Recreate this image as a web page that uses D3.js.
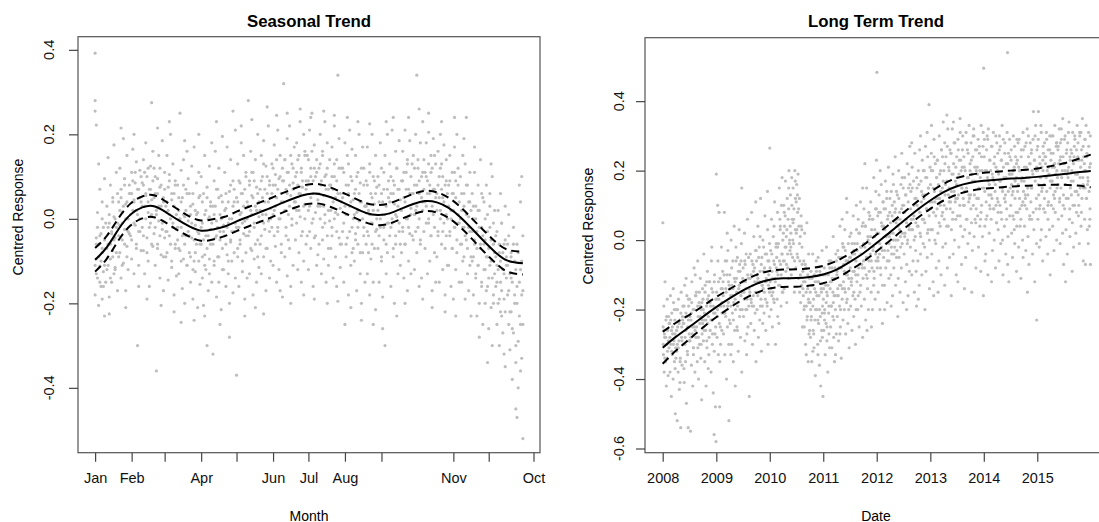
<!DOCTYPE html>
<html><head><meta charset="utf-8">
<script src="https://cdn.jsdelivr.net/npm/d3@7"></script>
<style>body{margin:0;background:#fff}svg{display:block;font-family:"Liberation Sans",Arial,sans-serif}</style>
</head><body><svg id="c" width="1099" height="522"></svg>
<script>
// ---------- Seasonal panel data ----------
const monthTickDays=[0,31,59,90,120,151,181,212,243,304,334,372];
const monthTickLabels=["Jan","Feb","","Apr","","Jun","Jul","Aug","","Nov","","Oct"];
const seasonalTickValues=[-0.4,-0.2,0,0.2,0.4];
const seasonalTickLabels=["-0.4","-0.2","0.0","0.2","0.4"];
const seasonalKnotDays=[0,10,20,30,40,50,60,70,80,90,100,110,120,130,140,150,160,170,180,190,200,210,220,230,240,250,260,270,280,290,300,310,320,330,340,350,363];
const seasonalFit=[-0.097,-0.067,-0.024,0.010,0.027,0.030,0.016,-0.002,-0.018,-0.028,-0.025,-0.018,-0.006,0.005,0.016,0.027,0.039,0.050,0.058,0.059,0.051,0.039,0.026,0.014,0.009,0.013,0.024,0.035,0.042,0.039,0.026,0.004,-0.024,-0.053,-0.080,-0.099,-0.105];
const seasonalHalfWidth=[0.028,0.027,0.026,0.026,0.026,0.026,0.025,0.025,0.024,0.024,0.024,0.023,0.023,0.023,0.023,0.023,0.023,0.023,0.023,0.023,0.023,0.023,0.023,0.023,0.024,0.024,0.024,0.024,0.024,0.024,0.024,0.024,0.024,0.025,0.025,0.026,0.027];
// day-of-year, response in thousandths
const seasonalPoints=`0 392,0 280,0 255,1 222,0 -180,1 -95,2 -140,2 15,3 -60,3 -205,4 -112,4 70,5 -35,5 -160,6 -80,6 40,7 -125,7 -20,8 -230,8 95,9 -70,9 -150,1 -45,3 130,6 -190,
10 -120,10 30,11 -60,11 145,12 -185,12 -10,13 80,13 -95,14 -35,14 -150,15 50,15 -75,16 5,16 175,17 -115,17 -45,18 110,18 -20,19 -170,19 60,12 -225,16 -130,
20 40,20 -90,21 -15,21 120,22 -140,22 70,23 -50,23 15,24 190,24 -105,25 -25,25 95,26 -170,26 35,27 -65,27 150,28 0,28 -120,29 80,29 -35,22 215,26 -210,
30 60,30 -40,31 110,31 -95,32 20,32 165,33 -130,33 45,34 -15,34 85,35 -60,35 135,36 -300,36 10,37 70,37 -110,38 -30,38 115,39 -75,39 40,33 200,37 -160,
40 85,40 -20,41 140,41 -75,42 30,42 -130,43 180,43 55,44 -45,44 100,45 -100,45 15,46 70,46 -160,47 125,47 -10,48 275,48 45,49 -65,49 160,44 -190,47 5,
50 -35,50 120,51 60,51 -110,52 -360,52 20,53 95,53 -60,54 150,54 -5,55 -140,55 75,56 30,56 -85,57 185,57 -25,58 50,58 -170,59 110,59 -45,53 215,56 -205,
60 30,60 -90,61 150,61 -30,62 75,62 -145,63 10,63 105,64 -60,64 200,65 -115,65 45,66 -10,66 130,67 -180,67 60,68 -70,68 90,69 -25,69 -135,63 230,67 -220,
70 -50,70 80,71 -130,71 20,72 250,72 -75,73 115,73 -20,74 -165,74 50,75 -95,75 140,76 5,76 -200,77 70,77 -40,78 160,78 -110,79 -5,79 95,73 -245,76 185,
80 -80,80 60,81 -150,81 10,82 125,82 -45,83 -190,83 35,84 -100,84 170,85 -15,85 -125,86 85,86 -60,87 -210,87 15,88 110,88 -35,89 -155,89 55,84 -240,88 200,
90 -60,90 100,91 -140,91 -10,92 60,92 -205,93 -85,93 150,94 20,94 -120,95 -300,95 75,96 -40,96 -170,97 125,97 -95,98 -25,98 40,99 -150,99 180,93 -230,97 5,
100 -320,100 30,101 -110,101 90,102 -45,102 160,103 -185,103 -5,104 70,104 -90,105 -150,105 120,106 -30,106 10,107 -215,107 55,108 -70,108 195,109 -120,109 -15,103 230,106 -250,
110 -40,110 110,111 -160,111 25,112 -85,112 170,113 -10,113 -130,114 65,114 -200,115 -55,115 140,116 0,116 -100,117 90,117 -175,118 40,118 -30,119 210,119 -140,114 -280,117 255,
120 -370,120 50,121 -90,121 130,122 -20,122 -160,123 85,123 -60,124 180,124 15,125 -125,125 60,126 -35,126 150,127 -190,127 -5,128 100,128 -80,129 40,129 -140,124 220,127 -230,
130 280,130 -40,131 90,131 -130,132 20,132 160,133 -75,133 55,134 -180,134 110,135 -10,135 -95,136 140,136 30,137 -150,137 75,138 -50,138 200,139 5,139 -115,133 235,136 -210,
140 70,140 -60,141 150,141 -130,142 10,142 100,143 -90,143 185,144 40,144 -25,145 -170,145 125,146 60,146 -70,147 220,147 -5,148 -140,148 90,149 25,149 -100,143 -225,146 265,
150 -20,150 130,151 80,151 -110,152 175,152 20,153 -65,153 105,154 -150,154 50,155 210,155 -30,156 95,156 -120,157 0,157 150,158 -80,158 60,159 120,159 -185,154 245,157 -170,
160 320,160 40,161 -90,161 140,162 70,162 -40,163 190,163 -135,164 10,164 110,165 -70,165 220,166 55,166 -160,167 130,167 -15,168 85,168 -110,169 170,169 25,163 250,166 -200,
170 100,170 -50,171 180,171 20,172 -120,172 140,173 60,173 -80,174 230,174 5,175 -150,175 110,176 75,176 -30,177 200,177 -100,178 35,178 150,179 -60,179 90,174 260,177 -180,
180 -40,180 150,181 90,181 -120,182 210,182 30,183 -70,183 120,184 -10,184 250,185 60,185 -160,186 175,186 -45,187 100,187 15,188 -110,188 140,189 45,189 -85,183 240,186 -190,
190 120,190 -60,191 30,191 200,192 -130,192 80,193 -20,193 160,194 55,194 -95,195 230,195 10,196 -150,196 105,197 -40,197 180,198 70,198 -110,199 140,199 -5,194 255,197 -200,
200 80,200 -70,201 170,201 -20,202 40,202 -140,203 220,203 100,204 -90,204 15,205 140,205 -160,206 340,206 60,207 -45,207 190,208 -115,208 25,209 120,209 -60,203 245,206 -195,
210 -30,210 120,211 -150,211 60,212 -250,212 180,213 10,213 -90,214 150,214 -45,215 80,215 -180,216 210,216 30,217 -110,217 100,218 -20,218 165,219 -70,219 45,214 240,217 -210,
220 60,220 -100,221 150,221 -35,222 15,222 -170,223 110,223 -60,224 200,224 -5,225 -130,225 85,226 -240,226 40,227 -80,227 170,228 -20,228 120,229 -150,229 30,223 230,226 -200,
230 -60,230 90,231 170,231 -130,232 20,232 -40,233 130,233 -180,234 60,234 -95,235 200,235 -10,236 -150,236 100,237 35,237 -70,238 150,238 -215,239 -25,239 75,233 225,236 -250,
240 100,240 -70,241 -150,241 40,242 180,242 -20,243 -100,243 120,244 10,244 -185,245 70,245 -50,246 -300,246 150,247 -130,247 30,248 200,248 -80,249 -10,249 90,244 -260,247 230,
250 -40,250 130,251 60,251 -160,252 210,252 -10,253 -90,253 90,254 -200,254 35,255 160,255 -60,256 5,256 120,257 -130,257 70,258 -30,258 185,259 -110,259 45,253 240,256 -230,
260 90,260 -80,261 160,261 -20,262 -140,262 50,263 210,263 -60,264 110,264 0,265 -170,265 140,266 70,266 -100,267 185,267 -35,268 25,268 -130,269 130,269 60,266 240,263 -200,
270 -50,270 150,271 80,271 -120,272 200,272 20,273 340,273 -80,274 120,274 -20,275 -160,275 60,276 180,276 -60,277 100,277 -140,278 40,278 230,279 -30,279 140,275 260,278 -190,
280 110,280 -70,281 180,281 30,282 -130,282 90,283 -10,283 205,284 60,284 -100,285 150,285 -40,286 -170,286 120,287 10,287 190,288 -80,288 70,289 130,289 -150,283 250,286 -210,
290 60,290 -90,291 160,291 -30,292 -150,292 100,293 200,293 20,294 -60,294 130,295 -120,295 50,296 175,296 -10,297 -180,297 80,298 -40,298 140,299 0,299 -110,294 230,297 -220,
300 80,300 -110,301 -40,301 150,302 20,302 -160,303 110,303 -70,304 -190,304 60,305 170,305 -20,306 -120,306 90,307 200,307 -80,308 -10,308 120,309 -150,309 40,305 240,306 -230,
310 -60,310 100,311 -150,311 20,312 150,312 -100,313 -20,313 60,314 -190,314 130,315 240,315 -50,316 -130,316 80,317 -20,317 -170,318 40,318 110,319 -90,319 -230,313 190,317 5,
320 -100,320 60,321 -180,321 0,322 -60,322 110,323 -140,323 30,324 -230,324 -30,325 80,325 -110,326 -200,326 20,327 -70,327 140,328 -160,328 -20,329 50,329 -250,322 170,326 -280,
330 -120,330 40,331 -200,331 -50,332 80,332 -170,333 -90,333 10,334 -260,334 -140,335 60,335 -20,336 -210,336 -100,337 100,337 -300,338 -60,338 -180,339 20,339 -130,333 -340,336 130,
340 -160,340 -40,341 -250,341 -110,342 20,342 -200,343 -80,343 -300,344 -150,344 60,345 -230,345 -10,346 -120,346 -270,347 -60,347 -190,348 -350,348 30,349 -140,349 -90,344 -220,347 -320,
350 -180,350 -60,351 -250,351 10,352 -130,352 -310,353 -220,353 -80,354 -380,354 -150,355 -20,355 -270,356 -200,356 -100,357 -340,357 -450,358 -160,358 -60,359 -290,359 -400,360 -230,360 80,361 -120,361 -360,362 -180,362 100,363 -520,363 -250,358 -470,361 40`;
// denser core of the seasonal cloud (day, thousandths)
const seasonalCorePoints=`0 -110,1 -60,1 -130,2 -20,3 -90,4 -150,4 -40,5 -100,6 0,6 -70,7 -160,8 -50,8 -110,9 -10,
10 -70,11 -20,11 -110,12 10,13 -60,13 -140,14 -30,15 -90,15 40,16 -50,17 0,17 -120,18 -80,19 -10,
20 -40,21 20,21 -80,22 50,23 -10,23 -110,24 30,25 -60,25 80,26 0,27 -90,27 40,28 -30,29 60,
30 10,31 60,31 -50,32 90,33 -10,33 40,34 110,35 -70,35 20,36 70,37 -30,38 50,38 0,39 100,
40 30,41 80,41 -40,42 110,43 0,43 60,44 -80,45 40,45 120,46 -20,47 70,48 10,48 -60,49 90,
50 50,51 -20,51 100,52 10,53 -70,53 60,54 30,55 -40,55 120,56 80,57 -10,58 40,58 -90,59 70,
60 -30,61 40,61 -80,62 20,63 -40,63 90,64 0,65 60,65 -100,66 -20,67 30,68 -60,68 80,69 10,
70 -20,71 50,71 -70,72 0,73 -100,73 40,74 -40,75 80,75 10,76 -60,77 20,78 -110,78 60,79 -30,
80 -40,81 30,81 -90,82 -10,83 60,83 -120,84 -50,85 20,85 -80,86 10,87 -30,88 -100,88 50,89 -60,
90 -20,91 -90,91 40,92 -50,93 10,93 -110,94 -40,95 50,95 -70,96 0,97 -130,98 -60,98 30,99 -10,
100 -60,101 10,101 -100,102 30,103 -40,103 70,104 -20,105 -90,105 50,106 -50,107 0,108 -120,108 40,109 -30,
110 20,111 -60,111 60,112 -20,113 -100,113 40,114 0,115 -50,115 80,116 -30,117 30,118 -80,118 70,119 -10,
120 -20,121 40,121 -70,122 90,123 10,123 -50,124 60,125 -10,125 -100,126 30,127 70,128 -40,128 110,129 0,
130 30,131 -30,131 80,132 -70,133 10,133 110,134 50,135 -20,135 90,136 -60,137 20,138 60,138 -90,139 40,
140 20,141 90,141 -40,142 50,143 -10,143 130,144 70,145 -70,145 10,146 100,147 40,148 -30,148 80,149 0,
150 60,151 10,151 120,152 -40,153 80,153 30,154 140,155 -20,155 70,156 0,157 100,158 40,158 -60,159 90,
160 90,161 20,161 140,162 -20,163 60,163 110,164 -50,165 80,165 30,166 150,167 0,168 70,168 120,169 40,
170 40,171 110,171 -10,172 80,173 150,173 20,174 60,175 -40,175 120,176 90,177 30,178 160,178 0,179 70,
180 80,181 20,181 140,182 -30,183 100,183 50,184 160,185 0,185 90,186 120,187 -40,188 60,188 110,189 30,
190 60,191 130,191 0,192 90,193 -50,193 150,194 30,195 100,195 -10,196 70,197 120,198 20,198 -70,199 80,
200 20,201 100,201 -40,202 70,203 0,203 130,204 50,205 -30,205 90,206 10,207 120,208 60,208 -60,209 40,
210 50,211 -10,211 110,212 30,213 80,213 -60,214 10,215 130,215 60,216 -30,217 40,218 90,218 -80,219 0,
220 10,221 70,221 -50,222 100,223 20,223 -20,224 60,225 -80,225 40,226 120,227 0,228 -40,228 80,229 30,
230 30,231 -30,231 80,232 -80,233 10,233 110,234 -10,235 50,235 -60,236 20,237 90,238 -30,238 60,239 0,
240 20,241 80,241 -40,242 0,243 60,243 -90,244 40,245 -20,245 110,246 10,247 -60,248 70,248 -10,249 50,
250 40,251 -20,251 100,252 0,253 60,253 -70,254 80,255 10,255 -40,256 120,257 30,258 -10,258 70,259 -60,
260 20,261 90,261 -30,262 110,263 40,263 -60,264 70,265 0,265 130,266 -20,267 60,268 100,268 10,269 -40,
270 60,271 10,271 120,272 -30,273 80,273 30,274 140,275 0,275 90,276 -50,277 50,278 110,278 20,279 70,
280 40,281 100,281 -10,282 60,283 130,283 0,284 80,285 -40,285 110,286 30,287 70,288 -20,288 150,289 50,
290 20,291 80,291 -40,292 50,293 120,293 0,294 70,295 -30,295 100,296 40,297 -70,298 90,298 10,299 60,
300 30,301 -30,301 90,302 0,303 60,303 -70,304 20,305 110,305 -20,306 50,307 -50,308 80,308 10,309 -10,
310 0,311 -60,311 60,312 -20,313 30,313 -90,314 -40,315 80,315 10,316 -70,317 40,318 -30,318 -110,319 20,
320 -30,321 -90,321 30,322 -50,323 0,323 -130,324 -70,325 20,325 -110,326 -20,327 -60,328 60,328 -150,329 -40,
330 -60,331 -120,331 0,332 -90,333 -30,333 -160,334 -70,335 -110,335 30,336 -50,337 -140,338 -10,338 -200,339 -80,
340 -90,341 -150,341 -30,342 -120,343 -60,343 -190,344 -100,345 -10,345 -170,346 -80,347 -130,348 -220,348 -50,349 -110,
350 -110,351 -170,351 -40,352 -220,353 -90,353 -140,354 -260,355 -60,356 -180,357 -120,357 -300,358 -200,359 -80,360 -150,361 -250,362 -100,362 -330,363 -170,363 -40`;

// ---------- Long-term panel data ----------
const trendTickYears=[2008,2009,2010,2011,2012,2013,2014,2015];
const trendTickValues=[-0.6,-0.4,-0.2,0,0.2,0.4];
const trendTickLabels=["-0.6","-0.4","-0.2","0.0","0.2","0.4"];
const trendKnotYears=[2008,2008.25,2008.5,2008.75,2009,2009.25,2009.5,2009.75,2010,2010.25,2010.5,2010.75,2011,2011.25,2011.5,2011.75,2012,2012.25,2012.5,2012.75,2013,2013.25,2013.5,2013.75,2014,2014.25,2014.5,2014.75,2015,2015.25,2015.5,2015.75,2016];
const trendFit=[-0.310,-0.278,-0.250,-0.221,-0.193,-0.168,-0.145,-0.126,-0.114,-0.110,-0.109,-0.106,-0.099,-0.085,-0.063,-0.038,-0.008,0.023,0.055,0.086,0.114,0.138,0.155,0.165,0.171,0.174,0.177,0.179,0.182,0.186,0.190,0.195,0.199];
const trendHalfWidth=[0.046,0.040,0.035,0.031,0.029,0.027,0.026,0.026,0.025,0.025,0.025,0.025,0.025,0.025,0.024,0.024,0.024,0.024,0.024,0.024,0.024,0.024,0.024,0.023,0.023,0.023,0.023,0.023,0.024,0.027,0.031,0.038,0.047];
// days since 2008-01-01, response in thousandths
const trendPoints=`1 50,3 -250,5 -330,8 -190,10 -380,13 -280,16 -120,19 -350,22 -230,25 -420,28 -300,31 -170,34 -260,37 -390,40 -220,43 -310,12 -270,30 -340,
47 -240,50 -380,53 -160,56 -300,59 -450,62 -210,65 -330,68 -270,71 -400,74 -180,77 -290,80 -350,83 -230,86 -500,89 -310,60 -260,72 -140,85 -370,
93 -200,96 -320,99 -520,102 -250,105 -380,108 -170,111 -290,114 -430,117 -230,120 -340,123 -540,126 -150,129 -280,132 -360,135 -220,100 -300,118 -410,130 -250,
138 -190,141 -300,144 -240,147 -410,150 -130,153 -280,156 -350,159 -210,162 -470,165 -160,168 -320,171 -250,174 -540,177 -190,180 -290,145 -370,160 -110,175 -230,
184 -170,187 -290,190 -550,193 -230,196 -360,199 -120,202 -270,205 -420,208 -200,211 -310,214 -80,217 -250,220 -380,223 -160,226 -280,195 -210,210 -330,222 -100,
230 -150,233 -280,236 -350,239 -60,242 -220,245 -400,248 -180,251 -300,254 -240,257 -110,260 -340,263 -200,266 -460,269 -270,272 -140,240 -310,255 -190,268 -230,
275 -170,278 -290,281 -40,284 -230,287 -350,290 -130,293 -260,296 -420,299 -190,302 -310,305 -90,308 -240,311 -370,314 -160,317 -280,285 -210,300 -120,315 -330,
321 -120,324 -260,327 -190,330 -380,333 -60,336 -230,339 -300,342 -150,345 -440,348 -210,351 -560,354 -100,357 -270,360 -480,363 -170,364 -580,335 -20,352 -320,
366 190,368 -150,371 -280,374 -200,377 -60,380 -330,383 -170,386 -240,389 -480,392 -110,395 -300,398 -190,401 -20,404 -260,407 -140,375 100,385 80,390 -350,405 -210,
412 -120,415 -270,418 -190,421 80,424 -330,427 -60,430 -220,433 -150,436 -400,439 -100,442 -250,445 -30,448 -180,451 -300,454 -130,420 -210,440 20,452 -520,
458 -100,461 -240,464 -160,467 0,470 -300,473 -130,476 -210,479 -60,482 -350,485 -180,488 40,491 -260,494 -120,497 -200,500 -20,465 -330,480 -140,495 -420,
504 -110,507 -250,510 -50,513 -180,516 -320,519 -140,522 30,525 -220,528 -90,531 -280,534 -160,537 -10,540 -380,543 -200,546 -120,510 -260,525 -70,540 150,
549 -80,552 -220,555 -150,558 20,561 -290,564 -120,567 -200,570 -40,573 -330,576 -170,579 60,582 -250,585 -110,588 -190,591 -450,560 -60,575 -270,590 -140,
595 -150,598 -40,601 -240,604 -100,607 80,610 -190,613 -300,616 -70,619 -160,622 10,625 -260,628 -120,631 -210,634 -30,637 -350,605 -180,620 -90,635 110,
641 -60,644 -200,647 -120,650 40,653 -280,656 -150,659 -20,662 -230,665 -90,668 120,671 -170,674 -320,677 -50,680 -130,683 -240,650 -110,665 10,680 -190,
686 -140,689 -20,692 -210,695 -80,698 70,701 -170,704 -260,707 -110,710 -40,713 -190,716 30,719 -300,722 -130,725 -60,728 -220,700 -120,715 140,729 -10,
731 265,734 -120,737 -30,740 -200,743 60,746 -90,749 -250,752 -150,755 10,758 -60,761 -180,764 110,767 -110,770 -300,773 -20,745 -160,760 40,775 -80,
778 -50,781 -170,784 80,787 -100,790 -10,793 -240,796 150,799 -130,802 30,805 -70,808 -190,811 100,814 -40,817 -150,820 0,785 -220,800 60,815 180,
823 -60,826 100,829 -140,832 40,835 -20,838 170,841 -90,844 10,847 -180,850 120,853 -40,856 60,859 -110,862 200,865 -10,830 80,845 -70,860 150,
869 -30,872 130,875 20,878 -100,881 180,884 60,887 -50,890 150,893 -10,896 90,899 -150,902 200,905 30,908 -80,911 110,875 -20,890 50,905 170,
915 160,918 -40,921 80,924 190,927 -110,930 40,933 120,936 -60,939 10,942 -180,945 70,948 -130,951 -20,954 -250,957 -90,920 130,935 -150,950 30,
960 -160,963 -60,966 -250,969 20,972 -120,975 -300,978 -80,981 -190,984 50,987 -220,990 -140,993 -350,996 -40,999 -270,1002 -110,965 -200,980 -330,995 -170,
1006 -180,1009 -280,1012 -90,1015 -220,1018 -350,1021 -130,1024 -40,1027 -260,1030 -170,1033 -310,1036 -100,1039 -230,1042 -390,1045 -150,1048 -60,1010 -200,1025 -320,1040 -120,
1052 -200,1055 -120,1058 -300,1061 -50,1064 -240,1067 -160,1070 -360,1073 -90,1076 -220,1079 -420,1082 -140,1085 -260,1088 -30,1091 -190,1094 -450,1060 -330,1075 -100,1090 -280,
1097 -170,1100 -260,1103 -80,1106 -200,1109 -330,1112 -130,1115 -240,1118 -20,1121 -290,1124 -160,1127 -380,1130 -100,1133 -210,1136 -60,1139 -310,1105 -230,1120 -150,1135 -270,
1143 -140,1146 -250,1149 -60,1152 -190,1155 -310,1158 -110,1161 -220,1164 10,1167 -280,1170 -160,1173 -350,1176 -80,1179 -200,1182 -40,1185 -270,1150 -120,1165 -180,1180 -330,
1189 -100,1192 -220,1195 -30,1198 -160,1201 -290,1204 -80,1207 -190,1210 40,1213 -250,1216 -130,1219 -340,1222 -50,1225 -170,1228 -10,1231 -230,1195 -140,1210 -270,1225 60,
1234 -120,1237 -20,1240 -200,1243 30,1246 -150,1249 -270,1252 -60,1255 -180,1258 80,1261 -100,1264 -240,1267 -10,1270 -140,1273 -310,1276 -50,1240 -90,1255 120,1270 -200,
1280 -80,1283 -190,1286 20,1289 -130,1292 -260,1295 -40,1298 -160,1301 70,1304 -220,1307 -90,1310 -10,1313 -170,1316 -300,1319 -60,1322 100,1290 -110,1305 -30,1320 -200,
1326 -120,1329 -10,1332 -200,1335 60,1338 -80,1341 -250,1344 20,1347 -150,1350 110,1353 -40,1356 -190,1359 -70,1362 40,1365 -280,1368 -110,1335 -160,1350 -20,1365 150,
1371 -60,1374 90,1377 -170,1380 -20,1383 40,1386 -230,1389 -100,1392 150,1395 -50,1398 -140,1401 10,1404 -200,1407 80,1410 -90,1413 -10,1380 220,1395 -260,1410 60,
1417 -40,1420 110,1423 -150,1426 30,1429 -80,1432 -200,1435 60,1438 -20,1441 180,1444 -110,1447 10,1450 -170,1453 90,1456 -60,1459 230,1425 -250,1440 -130,1455 140,
1462 483,1465 -80,1468 70,1471 -150,1474 20,1477 130,1480 -40,1483 -200,1486 80,1489 -100,1492 160,1495 -20,1498 40,1501 -130,1504 110,1470 -60,1485 200,1500 -240,
1508 -50,1511 90,1514 -130,1517 30,1520 170,1523 -80,1526 -10,1529 120,1532 -180,1535 60,1538 -30,1541 210,1544 -110,1547 10,1550 80,1515 -200,1530 140,1545 -60,
1554 20,1557 -100,1560 140,1563 -40,1566 70,1569 -160,1572 190,1575 0,1578 -80,1581 110,1584 -20,1587 240,1590 -130,1593 50,1596 -50,1560 -190,1575 160,1590 90,
1599 -30,1602 130,1605 40,1608 -110,1611 200,1614 -50,1617 80,1620 -150,1623 10,1626 160,1629 -80,1632 250,1635 -10,1638 100,1641 -180,1605 -220,1620 60,1635 180,
1645 100,1648 -40,1651 180,1654 20,1657 -120,1660 130,1663 60,1666 -70,1669 220,1672 0,1675 -160,1678 150,1681 40,1684 -90,1687 270,1650 80,1665 -200,1680 190,
1691 -20,1694 140,1697 60,1700 -100,1703 210,1706 30,1709 -60,1712 170,1715 100,1718 -150,1721 250,1724 10,1727 -30,1730 120,1733 -190,1700 280,1715 70,1730 -90,
1736 150,1739 40,1742 -60,1745 200,1748 90,1751 -130,1754 260,1757 20,1760 -40,1763 170,1766 110,1769 -100,1772 230,1775 60,1778 -10,1745 -170,1760 300,1775 130,
1782 60,1785 200,1788 -20,1791 130,1794 270,1797 -90,1800 90,1803 180,1806 -50,1809 240,1812 30,1815 150,1818 390,1821 -140,1824 110,1790 -200,1805 310,1820 0,
1828 160,1831 30,1834 250,1837 -40,1840 110,1843 200,1846 -120,1849 80,1852 290,1855 140,1858 0,1861 220,1864 70,1867 -80,1870 180,1835 330,1850 -160,1865 120,
1873 90,1876 230,1879 20,1882 160,1885 -60,1888 300,1891 120,1894 40,1897 200,1900 -100,1903 260,1906 70,1909 150,1912 -20,1915 340,1880 -150,1895 100,1910 240,
1919 200,1922 60,1925 280,1928 130,1931 -10,1934 240,1937 90,1940 170,1943 -80,1946 320,1949 40,1952 210,1955 110,1958 -50,1961 260,1925 -130,1940 360,1955 150,
1965 110,1968 250,1971 30,1974 190,1977 320,1980 80,1983 -40,1986 220,1989 140,1992 0,1995 280,1998 170,2001 60,2004 -100,2007 240,1970 -160,1985 340,2000 120,
2010 180,2013 70,2016 290,2019 130,2022 -20,2025 230,2028 100,2031 310,2034 40,2037 200,2040 -70,2043 150,2046 260,2049 10,2052 120,2015 -120,2030 350,2045 210,
2056 240,2059 100,2062 30,2065 200,2068 -50,2071 310,2074 150,2077 60,2080 260,2083 -10,2086 180,2089 110,2092 330,2095 20,2098 220,2060 -140,2075 280,2090 130,
2102 130,2105 280,2108 50,2111 190,2114 -30,2117 240,2120 100,2123 320,2126 10,2129 170,2132 60,2135 260,2138 -80,2141 200,2144 120,2110 -150,2125 300,2140 90,
2147 210,2150 70,2153 290,2156 -20,2159 150,2162 250,2165 40,2168 180,2171 -90,2174 330,2177 100,2180 200,2183 10,2186 270,2189 -160,2155 120,2170 60,2191 495,
2193 150,2196 290,2199 40,2202 200,2205 -40,2208 110,2211 260,2214 70,2217 180,2220 -100,2223 320,2226 130,2229 20,2232 230,2235 90,2200 -60,2215 300,2230 160,
2239 200,2242 60,2245 270,2248 120,2251 -30,2254 180,2257 310,2260 90,2263 0,2266 240,2269 140,2272 -80,2275 210,2278 50,2281 280,2245 -120,2260 170,2275 100,
2284 120,2287 250,2290 30,2293 190,2296 -60,2299 300,2302 100,2305 170,2308 -10,2311 230,2314 60,2317 330,2320 140,2323 -100,2326 210,2290 80,2305 270,2320 0,
2330 180,2333 40,2336 280,2339 110,2342 -40,2345 220,2348 90,2351 310,2354 540,2357 10,2360 250,2363 -120,2366 190,2369 70,2372 150,2340 130,2355 -70,2370 240,
2376 100,2379 260,2382 20,2385 190,2388 -50,2391 140,2394 300,2397 60,2400 210,2403 -10,2406 170,2409 240,2412 80,2415 -90,2418 290,2385 130,2400 30,2415 220,
2421 230,2424 80,2427 160,2430 -20,2433 290,2436 120,2439 40,2442 200,2445 -110,2448 260,2451 100,2454 180,2457 0,2460 310,2463 140,2430 210,2445 60,2460 -50,
2467 170,2470 40,2473 270,2476 120,2479 -30,2482 210,2485 90,2488 320,2491 150,2494 10,2497 240,2500 -70,2503 180,2506 70,2509 280,2475 130,2490 -150,2505 220,
2513 110,2516 250,2519 60,2522 200,2525 -40,2528 290,2531 370,2534 30,2537 230,2540 -120,2543 170,2546 330,2549 90,2552 -10,2555 260,2520 150,2553 -230,2550 200,
2558 200,2561 60,2564 290,2567 130,2570 -20,2573 240,2576 100,2579 180,2582 330,2585 30,2588 210,2591 150,2594 -60,2597 270,2600 90,2565 370,2580 0,2595 230,
2604 160,2607 280,2610 80,2613 220,2616 10,2619 310,2622 140,2625 200,2628 -40,2631 260,2634 110,2637 190,2640 30,2643 300,2646 170,2615 240,2630 60,2645 -100,
2650 230,2653 100,2656 300,2659 170,2662 40,2665 250,2668 130,2671 -30,2674 210,2677 330,2680 80,2683 190,2686 270,2689 0,2692 150,2660 210,2675 120,2690 280,
2695 180,2698 260,2701 60,2704 220,2707 320,2710 120,2713 -10,2716 240,2719 150,2722 290,2725 70,2728 200,2731 350,2734 100,2737 -70,2700 160,2715 280,2730 20,
2741 220,2744 90,2747 300,2750 160,2753 30,2756 250,2759 190,2762 -40,2765 280,2768 120,2771 210,2774 340,2777 60,2780 240,2783 150,2750 -120,2765 200,2780 10,
2787 260,2790 130,2793 200,2796 50,2799 310,2802 170,2805 -20,2808 240,2811 100,2814 290,2817 190,2820 20,2823 230,2826 140,2829 330,2795 -90,2810 270,2825 80,
2832 190,2835 280,2838 70,2841 230,2844 -10,2847 300,2850 150,2853 210,2856 40,2859 260,2862 120,2865 350,2868 180,2871 -60,2874 240,2840 100,2855 310,2870 160,
2878 220,2880 60,2882 290,2884 150,2886 -70,2888 200,2890 330,2893 120,2896 250,2899 30,2902 180,2905 -10,2908 270,2911 140,2914 210,2917 90,2919 300,2920 -70,2912 40,2900 160`;
// denser core of the long-term cloud (days since 2008-01-01, thousandths)
const trendCorePoints=`4 -300,9 -260,15 -340,21 -280,27 -220,33 -320,38 -290,44 -240,
49 -280,55 -230,61 -320,66 -250,73 -300,79 -200,84 -270,90 -340,
95 -260,101 -200,107 -310,112 -240,119 -350,124 -210,131 -290,136 -230,
140 -240,146 -190,152 -300,158 -260,164 -220,170 -330,176 -170,181 -270,
186 -220,192 -280,198 -180,204 -250,209 -310,215 -200,221 -260,227 -160,
232 -250,238 -190,244 -280,250 -150,256 -220,262 -300,267 -180,273 -240,
277 -200,283 -260,289 -150,295 -230,301 -290,306 -170,312 -220,318 -120,
323 -180,329 -230,334 -140,340 -270,346 -190,352 -120,358 -210,362 -250,
369 -170,375 -220,381 -120,387 -190,393 -250,399 -140,404 -180,409 -90,
413 -160,419 -100,425 -210,431 -140,437 -60,443 -190,449 -120,455 -230,
459 -140,465 -190,471 -80,477 -160,483 -230,489 -110,495 -170,501 -60,
505 -150,511 -190,517 -90,523 -130,529 -200,535 -60,541 -150,546 -110,
551 -120,557 -170,563 -70,569 -140,575 -200,580 -100,586 -50,592 -160,
597 -110,603 -170,609 -60,615 -130,621 -190,627 -80,633 -150,638 -30,
643 -100,649 -160,655 -50,661 -120,667 -190,673 -70,679 -130,684 0,
688 -90,694 -150,700 -40,706 -120,712 -180,718 -60,724 -100,729 -150,
733 -80,739 -140,745 -40,751 -110,757 -170,763 -70,769 -120,775 -10,
779 -90,785 -20,791 -130,797 -60,803 40,809 -100,815 -40,820 -150,
824 20,830 -60,836 70,842 -20,848 30,854 -80,860 90,866 0,
870 40,876 -40,882 100,888 0,894 60,900 -60,906 120,912 20,
916 30,922 -50,928 90,934 -10,940 -100,946 40,952 -70,957 -140,
961 -120,967 -190,973 -70,979 -150,985 -230,991 -100,997 -180,1003 -260,
1007 -150,1013 -230,1019 -110,1025 -190,1031 -270,1037 -140,1043 -200,1049 -90,
1053 -160,1059 -230,1065 -120,1071 -200,1077 -290,1083 -150,1089 -210,1094 -100,
1098 -140,1104 -210,1110 -100,1116 -180,1122 -250,1128 -130,1134 -190,1140 -80,
1144 -120,1150 -190,1156 -80,1162 -150,1168 -230,1174 -110,1180 -160,1186 -60,
1190 -90,1196 -160,1202 -50,1208 -130,1214 -200,1220 -80,1226 -140,1231 -20,
1235 -70,1241 -140,1247 -30,1253 -100,1259 -170,1265 -60,1271 -110,1277 10,
1281 -50,1287 -120,1293 -10,1299 -90,1305 -150,1311 -40,1317 -100,1323 30,
1327 -30,1333 -100,1339 20,1345 -70,1351 -130,1357 -20,1363 -80,1368 50,
1372 -10,1378 -80,1384 40,1390 -50,1396 -110,1402 0,1408 -60,1414 70,
1418 10,1424 -60,1430 60,1436 -30,1442 -90,1448 30,1454 -40,1459 90,
1463 20,1469 -50,1475 80,1481 -10,1487 -80,1493 50,1499 -30,1505 110,
1509 40,1515 -30,1521 90,1527 10,1533 -60,1539 70,1545 -10,1551 120,
1555 50,1561 -20,1567 100,1573 20,1579 -40,1585 80,1591 0,1596 140,
1600 60,1606 0,1612 120,1618 30,1624 -20,1630 90,1636 20,1642 150,
1646 80,1652 10,1658 130,1664 50,1670 -10,1676 110,1682 30,1688 160,
1692 90,1698 30,1704 150,1710 60,1716 0,1722 120,1728 50,1734 180,
1737 100,1743 40,1749 160,1755 80,1761 10,1767 140,1773 60,1779 200,
1783 120,1789 50,1795 180,1801 90,1807 20,1813 150,1819 70,1825 210,
1829 90,1834 200,1841 30,1846 150,1853 240,1858 110,1864 -10,1870 180,
1875 230,1879 120,1887 50,1891 190,1898 140,1903 260,1911 80,1915 170,
1921 100,1927 220,1930 160,1939 40,1943 270,1951 130,1955 200,1963 90,
1967 250,1971 140,1979 60,1983 190,1989 280,1997 110,2001 210,2006 160,
2012 120,2018 260,2022 190,2030 70,2034 230,2042 150,2048 300,2053 100,
2058 210,2061 140,2070 280,2073 60,2081 180,2085 250,2094 120,2098 200,
2104 90,2107 230,2116 170,2119 300,2128 130,2131 210,2137 50,2144 260,
2149 190,2153 120,2161 270,2165 200,2173 80,2176 240,2182 150,2188 310,
2195 240,2199 140,2207 60,2211 200,2219 290,2222 170,2231 100,2234 230,
2241 130,2247 270,2250 190,2259 90,2262 220,2271 160,2274 300,2280 50,
2286 200,2289 110,2298 260,2301 170,2310 80,2313 230,2319 150,2325 290,
2332 120,2335 250,2344 180,2347 60,2356 220,2359 140,2368 290,2371 190,
2378 230,2381 160,2390 70,2393 200,2402 270,2405 120,2414 180,2417 40,
2423 140,2426 280,2435 200,2438 90,2447 240,2450 170,2459 110,2462 260,
2469 210,2472 100,2481 280,2484 180,2493 130,2496 300,2505 60,2508 220,
2515 150,2518 260,2527 190,2530 80,2539 230,2542 300,2551 120,2554 210,
2560 270,2563 160,2572 90,2575 220,2584 310,2587 140,2596 200,2599 250,
2606 120,2609 240,2618 180,2621 290,2630 100,2633 210,2642 260,2645 150,
2652 250,2655 170,2664 300,2667 90,2676 220,2679 140,2688 280,2691 200,
2697 160,2700 270,2709 110,2712 230,2721 320,2724 180,2733 240,2736 130,
2743 290,2746 200,2755 120,2758 260,2767 180,2770 310,2779 90,2782 230,
2789 170,2792 250,2801 100,2804 220,2813 300,2816 140,2825 260,2828 190,
2834 240,2837 130,2846 310,2849 180,2858 80,2861 230,2870 270,2873 150,
2880 200,2883 290,2892 120,2895 240,2904 170,2907 310,2916 60,2920 220`;

// ---------- helpers ----------
function parsePts(s){return s.split(",").map(t=>t.trim()).filter(t=>t).map(t=>{const p=t.split(/\s+/).map(Number);return {x:p[0],y:p[1]/1000};});}
const svg=d3.select("#c");
const FONT='"Liberation Sans",Arial,sans-serif';
const DAY=864e5, T0=Date.UTC(2008,0,1);
const pointColor="#bebebe";

// ---------- Seasonal panel ----------
(function(){
  const box={l:78,r:540,t:36.7,b:452.7};
  const pad=363*0.04;
  const x=d3.scaleLinear().domain([0-pad,363+pad]).range([box.l,box.r]);
  const y=d3.scaleLinear().domain([-0.5535,0.4311]).range([box.b,box.t]);
  const g=svg.append("g");
  const pts=parsePts(seasonalPoints).concat(parsePts(seasonalCorePoints));
  g.append("g").selectAll("circle").data(pts).join("circle")
    .attr("cx",d=>x(d.x)).attr("cy",d=>y(d.y)).attr("r",1.6).attr("fill",pointColor);
  const fitData=seasonalKnotDays.map((d,i)=>({x:d,f:seasonalFit[i],w:seasonalHalfWidth[i]}));
  const line=k=>d3.line().x(d=>x(d.x)).y(d=>y(d.f+k*d.w)).curve(d3.curveNatural);
  g.append("path").datum(fitData).attr("d",line(0)).attr("fill","none").attr("stroke","#000").attr("stroke-width",2);
  [1,-1].forEach(k=>g.append("path").datum(fitData).attr("d",line(k)).attr("fill","none").attr("stroke","#000").attr("stroke-width",2).attr("stroke-dasharray","8,5"));
  g.append("rect").attr("x",box.l).attr("y",box.t).attr("width",box.r-box.l).attr("height",box.b-box.t).attr("fill","none").attr("stroke","#555").attr("stroke-width",1.2);
  const xa=g.append("g").attr("transform",`translate(0,${box.b})`).call(d3.axisBottom(x).tickValues(monthTickDays).tickSize(9).tickFormat((d,i)=>monthTickLabels[i]).tickPadding(11));
  xa.select(".domain").remove();
  xa.selectAll("line").attr("stroke","#444").attr("stroke-width",1.2);
  xa.selectAll("text").attr("font-family",FONT).attr("font-size",14.5).attr("fill","#111");
  const ya=g.append("g").attr("transform",`translate(${box.l},0)`).call(d3.axisLeft(y).tickValues(seasonalTickValues).tickSize(9).tickFormat(""));
  ya.select(".domain").remove();
  ya.selectAll("line").attr("stroke","#444").attr("stroke-width",1.2);
  g.selectAll(".ylab").data(seasonalTickValues).join("text").attr("class","ylab")
    .attr("transform",(d)=>`translate(54,${y(d)}) rotate(-90)`).attr("text-anchor","middle")
    .attr("font-family",FONT).attr("font-size",14.5).attr("fill","#111").text((d,i)=>seasonalTickLabels[i]);
  g.append("text").attr("x",(box.l+box.r)/2).attr("y",27).attr("text-anchor","middle").attr("font-family",FONT).attr("font-weight","bold").attr("font-size",16.8).text("Seasonal Trend");
  g.append("text").attr("x",(box.l+box.r)/2).attr("y",520.5).attr("text-anchor","middle").attr("font-family",FONT).attr("font-size",14).text("Month");
  g.append("text").attr("transform","translate(23,217) rotate(-90)").attr("text-anchor","middle").attr("font-family",FONT).attr("font-size",14).text("Centred Response");
})();

// ---------- Long-term panel ----------
(function(){
  const box={l:645,r:1107,t:37.7,b:452.7};
  const x=d3.scaleUtc().domain([new Date(T0-120.8*DAY),new Date(T0+3033*DAY)]).range([box.l,box.r]);
  const y=d3.scaleLinear().domain([-0.6121,0.5827]).range([box.b,box.t]);
  const g=svg.append("g");
  const pts=parsePts(trendPoints).concat(parsePts(trendCorePoints));
  g.append("g").selectAll("circle").data(pts).join("circle")
    .attr("cx",d=>x(new Date(T0+d.x*DAY))).attr("cy",d=>y(d.y)).attr("r",1.6).attr("fill",pointColor);
  const fitData=trendKnotYears.map((yr,i)=>({t:new Date(T0+(yr-2008)*365.25*DAY),f:trendFit[i],w:trendHalfWidth[i]}));
  const line=k=>d3.line().x(d=>x(d.t)).y(d=>y(d.f+k*d.w)).curve(d3.curveNatural);
  g.append("path").datum(fitData).attr("d",line(0)).attr("fill","none").attr("stroke","#000").attr("stroke-width",2);
  [1,-1].forEach(k=>g.append("path").datum(fitData).attr("d",line(k)).attr("fill","none").attr("stroke","#000").attr("stroke-width",2).attr("stroke-dasharray","8,5"));
  g.append("rect").attr("x",box.l).attr("y",box.t).attr("width",box.r-box.l).attr("height",box.b-box.t).attr("fill","none").attr("stroke","#555").attr("stroke-width",1.2);
  const yearDates=trendTickYears.map(yr=>new Date(Date.UTC(yr,0,1)));
  const xa=g.append("g").attr("transform",`translate(0,${box.b})`).call(d3.axisBottom(x).tickValues(yearDates).tickSize(9).tickFormat(d3.utcFormat("%Y")).tickPadding(11));
  xa.select(".domain").remove();
  xa.selectAll("line").attr("stroke","#444").attr("stroke-width",1.2);
  xa.selectAll("text").attr("font-family",FONT).attr("font-size",14.5).attr("fill","#111");
  const ya=g.append("g").attr("transform",`translate(${box.l},0)`).call(d3.axisLeft(y).tickValues(trendTickValues).tickSize(9).tickFormat(""));
  ya.select(".domain").remove();
  ya.selectAll("line").attr("stroke","#444").attr("stroke-width",1.2);
  g.selectAll(".ylab").data(trendTickValues).join("text").attr("class","ylab")
    .attr("transform",(d)=>`translate(624,${y(d)}) rotate(-90)`).attr("text-anchor","middle")
    .attr("font-family",FONT).attr("font-size",14.5).attr("fill","#111").text((d,i)=>trendTickLabels[i]);
  g.append("text").attr("x",(box.l+box.r)/2).attr("y",27).attr("text-anchor","middle").attr("font-family",FONT).attr("font-weight","bold").attr("font-size",16.8).text("Long Term Trend");
  g.append("text").attr("x",(box.l+box.r)/2).attr("y",520.5).attr("text-anchor","middle").attr("font-family",FONT).attr("font-size",14).text("Date");
  g.append("text").attr("transform","translate(593,226) rotate(-90)").attr("text-anchor","middle").attr("font-family",FONT).attr("font-size",14).text("Centred Response");
})();
</script></body></html>
